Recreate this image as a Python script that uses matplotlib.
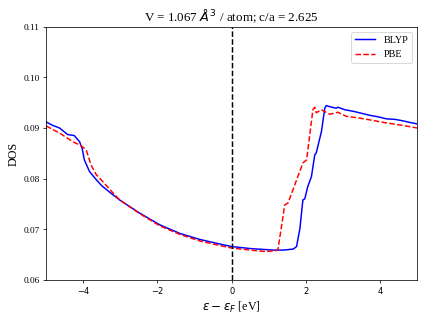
import matplotlib
matplotlib.use("Agg")
import matplotlib.pyplot as plt

plt.rcParams['font.family'] = ['Liberation Serif', 'DejaVu Serif']
plt.rcParams['mathtext.fontset'] = 'dejavusans'

blyp_x = [-5.0, -4.82, -4.64, -4.42, -4.24, -4.1, -4.03, -3.97, -3.83, -3.65, -3.5, -3.3, -3.02,
          -2.48, -1.94, -1.4, -0.86, -0.32, 0.0, 0.5, 1.12, 1.4, 1.66, 1.75, 1.84, 1.92,
          1.97, 2.05, 2.15, 2.24, 2.28, 2.42, 2.51, 2.55, 2.7, 2.82, 2.86, 3.05, 3.27, 3.5,
          3.72, 3.95, 4.17, 4.4, 4.62, 4.8, 5.0]
blyp_y = [0.0912, 0.0905, 0.0900, 0.0887, 0.0885, 0.0873, 0.0860, 0.0837, 0.0814, 0.0798, 0.0786, 0.0774, 0.0758,
          0.0732, 0.0709, 0.0692, 0.0680, 0.0671, 0.0666, 0.0662, 0.0659, 0.0659, 0.0661, 0.0666, 0.0702, 0.0758,
          0.0760, 0.0784, 0.0804, 0.0847, 0.0851, 0.0893, 0.0939, 0.0944, 0.0941, 0.0939, 0.0941, 0.0936, 0.0933, 0.0929,
          0.0925, 0.0922, 0.0918, 0.0917, 0.0914, 0.0911, 0.0908]

pbe_x = [-5.0, -4.64, -4.28, -4.06, -3.92, -3.79, -3.65, -3.47, -3.2, -3.02, -2.48, -1.94, -1.4,
         -0.86, -0.32, 0.0, 0.5, 0.93, 1.2, 1.25, 1.43, 1.52, 1.92, 2.02, 2.19, 2.24,
         2.28, 2.42, 2.64, 2.86, 3.09, 3.4, 3.72, 4.17, 4.62, 5.0]
pbe_y = [0.0904, 0.0890, 0.0873, 0.0865, 0.0857, 0.0827, 0.0808, 0.0794, 0.0772, 0.0758, 0.0731, 0.0707, 0.0690,
         0.0677, 0.0668, 0.0663, 0.0659, 0.0656, 0.0658, 0.0661, 0.0748, 0.0752, 0.0831, 0.0837, 0.0936, 0.0941,
         0.0930, 0.0936, 0.0927, 0.0931, 0.0923, 0.0920, 0.0916, 0.0910, 0.0905, 0.0900]

xticks = [-4, -2, 0, 2, 4]
yticks = [0.06, 0.07, 0.08, 0.09, 0.10, 0.11]

fig = plt.figure(figsize=(6.4, 4.8), dpi=66.72)
ax = fig.add_axes([0.108, 0.125, 0.869, 0.791])
ax.plot(blyp_x, blyp_y, color='blue', lw=1.6, label='BLYP')
ax.plot(pbe_x, pbe_y, color='red', lw=1.6, ls='--', label='PBE')
ax.axvline(0, color='black', ls='--', lw=1.6)
ax.set_xlim(-5, 5)
ax.set_ylim(0.06, 0.11)
ax.set_xticks(xticks)
ax.set_xticklabels(['\u2212' + str(-t) if t < 0 else str(t) for t in xticks],
                   fontfamily='DejaVu Sans', fontsize=9)
ax.set_yticks(yticks)
ax.set_yticklabels(['%.2f' % t for t in yticks], fontsize=10)
ax.set_xlabel(r'$\epsilon - \epsilon_F$ [eV]', fontsize=13)
ax.set_ylabel('DOS', fontsize=13)
ax.set_title(r'V = 1.067 $\AA^3$ / atom; c/a = 2.625', fontsize=14)
ax.legend(loc='upper right', fontsize=11)
fig.savefig('out.png', dpi=66.72)
